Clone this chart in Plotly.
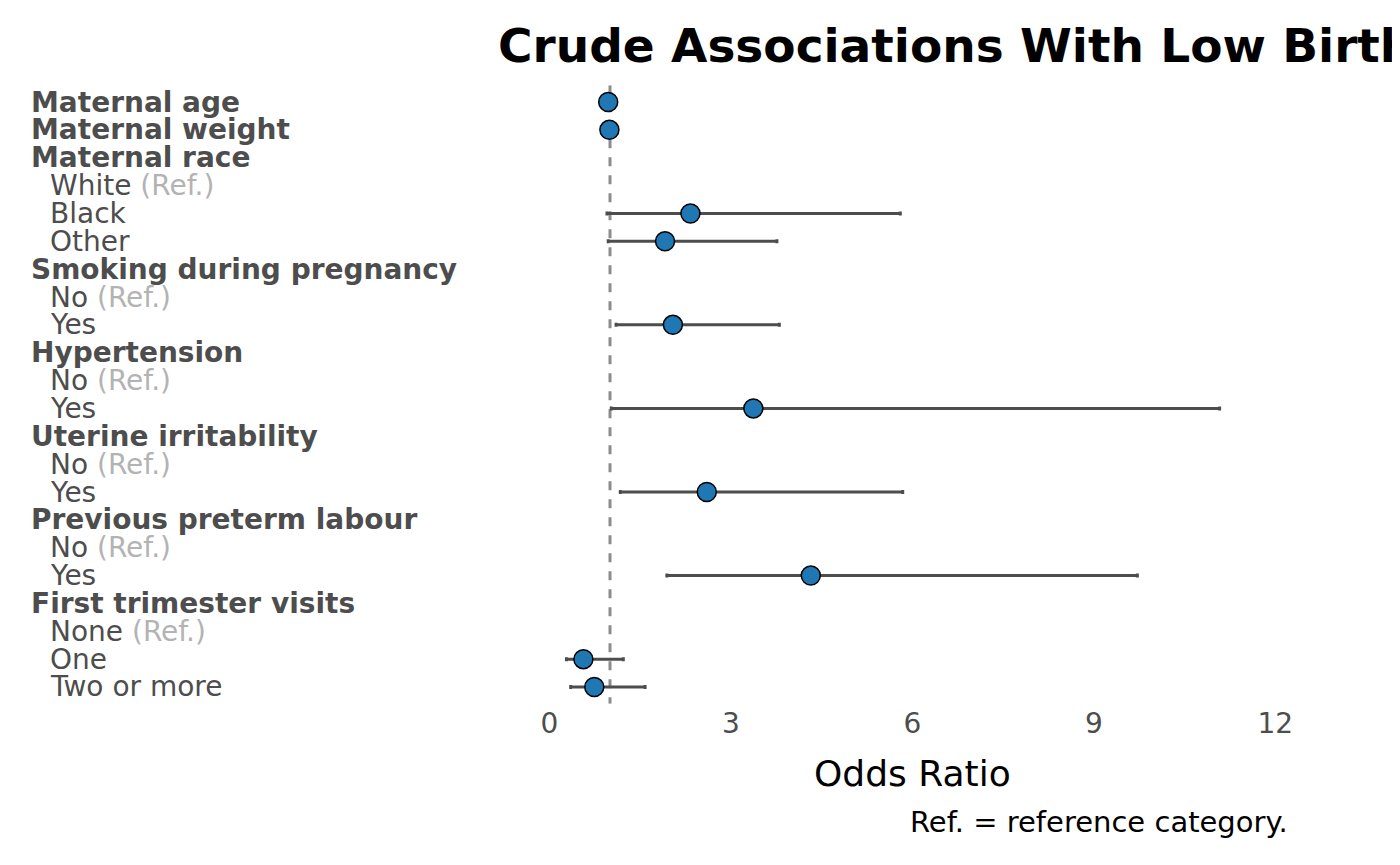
import plotly.graph_objects as go

labels = ["Maternal age", "Maternal weight", "Maternal race", "White", "Black", "Other",
          "Smoking during pregnancy", "No", "Yes", "Hypertension", "No", "Yes",
          "Uterine irritability", "No", "Yes", "Previous preterm labour", "No", "Yes",
          "First trimester visits", "None", "One", "Two or more"]
is_header = [True, True, True, False, False, False, True, False, False, True, False, False,
             True, False, False, True, False, False, True, False, False, False]
is_ref = [False, False, False, True, False, False, False, True, False, False, True, False,
          False, True, False, False, True, False, False, True, False, False]
odds = [0.97, 0.99, None, None, 2.33, 1.91, None, None, 2.04, None, None, 3.37,
        None, None, 2.60, None, None, 4.32, None, None, 0.56, 0.74]
ci_low = [0.95, 0.97, None, None, 0.95, 0.97, None, None, 1.10, None, None, 1.02,
          None, None, 1.17, None, None, 1.94, None, None, 0.28, 0.35]
ci_high = [0.99, 1.01, None, None, 5.80, 3.76, None, None, 3.80, None, None, 11.08,
           None, None, 5.84, None, None, 9.72, None, None, 1.22, 1.58]

rows = list(range(len(labels)))
pts = [(r, o, o - l, h - o) for r, o, l, h in zip(rows, odds, ci_low, ci_high) if o is not None]

fig = go.Figure()
fig.add_trace(go.Scatter(
    x=[p[1] for p in pts], y=[p[0] for p in pts], mode="markers",
    marker=dict(size=19, color="#1f77b4", line=dict(color="black", width=1.5)),
    error_x=dict(type="data", symmetric=False, array=[p[3] for p in pts],
                 arrayminus=[p[2] for p in pts], color="#4d4d4d", thickness=3, width=2),
    showlegend=False))

fig.add_shape(type="line", x0=1, x1=1, y0=-0.6, y1=21.6, xref="x", yref="y",
              line=dict(color="#8c8c8c", width=3, dash="dash"), layer="below")

for r, lab, h, ref in zip(rows, labels, is_header, is_ref):
    if h:
        txt = "<b>" + lab + "</b>"
        x = 12 / 1400
    else:
        txt = lab + (' <span style="color:#b3b3b3">(Ref.)</span>' if ref else "")
        x = 32 / 1400
    fig.add_annotation(x=x, y=r, xref="paper", yref="y", text=txt, showarrow=False,
                       xanchor="left", yanchor="middle",
                       font=dict(size=28, color="#4d4d4d", family="DejaVu Sans"))

fig.add_annotation(x=488 / 1400, y=1 - 37 / 865, xref="paper", yref="paper",
                   text="<b>Crude Associations With Low Birth Weight</b>", showarrow=False,
                   xanchor="left", yanchor="middle",
                   font=dict(size=47, color="black", family="DejaVu Sans"))
fig.add_annotation(x=1298 / 1400, y=1 - 814 / 865, xref="paper", yref="paper",
                   text="Ref. = reference category.", showarrow=False,
                   xanchor="right", yanchor="middle",
                   font=dict(size=29, color="black", family="DejaVu Sans"))
fig.add_annotation(x=(543 + 1283) / 2 / 1400, y=1 - 765 / 865, xref="paper", yref="paper",
                   text="Odds Ratio", showarrow=False, xanchor="center", yanchor="middle",
                   font=dict(size=36, color="black", family="DejaVu Sans"))

fig.update_layout(
    width=1400, height=865, margin=dict(l=0, r=0, t=0, b=0),
    plot_bgcolor="white", paper_bgcolor="white",
    font=dict(family="DejaVu Sans"),
    xaxis=dict(domain=[543 / 1400, 1283 / 1400], range=[0, 12], tickvals=[0, 3, 6, 9, 12],
               showgrid=False, zeroline=False, showline=False,
               tickfont=dict(size=28, color="#4d4d4d"), ticklen=0),
    yaxis=dict(domain=[1 - 695.7 / 865, 1 - 77.3 / 865], range=[21.6, -0.6],
               showticklabels=False, showgrid=False, zeroline=False, showline=False),
)

fig.write_html("out.html")
